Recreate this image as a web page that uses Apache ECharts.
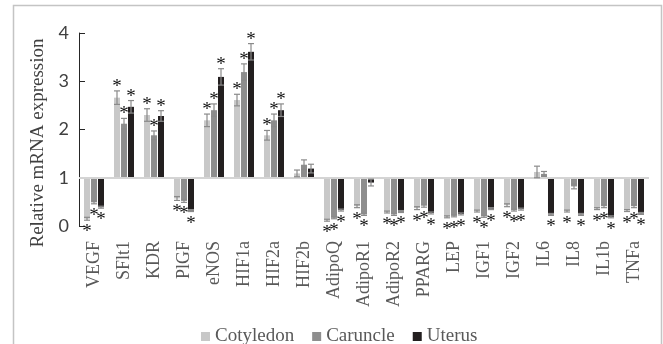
<!DOCTYPE html>
<html><head><meta charset="utf-8">
<script src="https://cdn.jsdelivr.net/npm/echarts@6/dist/echarts.min.js"></script>
<style>html,body{margin:0;padding:0;background:#fff}#c{width:663px;height:344px}</style>
</head><body><div id="c"></div>
<script>
const categories = ['VEGF','SFlt1','KDR','PlGF','eNOS','HIF1a','HIF2a','HIF2b','AdipoQ','AdipoR1','AdipoR2','PPARG','LEP','IGF1','IGF2','IL6','IL8','IL1b','TNFa'];
const seriesNames = ['Cotyledon','Caruncle','Uterus'];
const cotyledon    = [0.15,2.66,2.30,0.57,2.19,2.61,1.88,1.09,0.12,0.41,0.29,0.37,0.19,0.31,0.43,1.12,0.31,0.36,0.32];
const cotyledonErr = [0.03,0.14,0.13,0.04,0.13,0.12,0.10,0.07,0.02,0.03,0.02,0.03,0.02,0.02,0.03,0.12,0.02,0.02,0.02];
const cotyledonSig = [1,1,1,1,1,1,1,0,1,1,1,1,1,1,1,0,1,1,1];
const caruncle     = [0.49,2.12,1.88,0.52,2.40,3.19,2.19,1.27,0.17,0.24,0.24,0.42,0.21,0.20,0.33,1.08,0.82,0.41,0.41];
const caruncleErr  = [0.03,0.11,0.09,0.03,0.13,0.17,0.13,0.10,0.02,0.02,0.02,0.03,0.02,0.02,0.02,0.05,0.05,0.03,0.03];
const caruncleSig  = [1,1,1,1,1,1,1,0,1,1,1,1,1,1,1,0,0,1,1];
const uterus       = [0.39,2.47,2.28,0.32,3.09,3.61,2.40,1.19,0.33,0.90,0.30,0.27,0.25,0.36,0.35,0.24,0.24,0.19,0.26];
const uterusErr    = [0.02,0.13,0.11,0.02,0.17,0.17,0.13,0.09,0.02,0.07,0.02,0.02,0.02,0.02,0.02,0.02,0.02,0.02,0.02];
const uterusSig    = [1,1,1,1,1,1,1,0,1,0,1,1,1,1,1,1,1,1,1];
const yMin = 0, yMax = 4, yStep = 1;
const BASE = 1;

const BAR_W = 6, BAR_GAP = 1;
const colors = ['#c8c8c8','#8e8e8e','#231f20'];
const groups = [
  {values: cotyledon, err: cotyledonErr, sig: cotyledonSig},
  {values: caruncle, err: caruncleErr, sig: caruncleSig},
  {values: uterus, err: uterusErr, sig: uterusSig}
];
const errData = [];
groups.forEach((g, gi) => g.values.forEach((v, i) => errData.push([i, v - BASE, g.err[i], g.sig[i], gi])));

const chart = echarts.init(document.getElementById('c'));
const series = groups.map((g, gi) => ({
  name: seriesNames[gi], type: 'bar',
  data: g.values.map(v => +(v - BASE).toFixed(4)),
  barWidth: BAR_W, barGap: '17%',
  itemStyle: {color: colors[gi]},
  markLine: gi === 0 ? {silent: true, symbol: 'none', label: {show: false},
    lineStyle: {color: '#d4d4d4', width: 2, type: 'solid'}, data: [{yAxis: 0}]} : undefined
}));
series.push({
  type: 'custom', name: 'err', z: 5,
  data: errData,
  renderItem: function (params, api) {
    const cat = api.value(0), val = api.value(1), err = api.value(2), sig = api.value(3), gi = api.value(4);
    const xc = api.coord([cat, 0])[0] + (gi - 1) * (BAR_W + BAR_GAP);
    const yHi = api.coord([cat, val + err])[1];
    const yLo = api.coord([cat, val - err])[1];
    const hw = BAR_W / 2;
    const st = {stroke: '#8a8a8a', lineWidth: 1.2};
    const ch = [
      {type: 'line', shape: {x1: xc, y1: yHi, x2: xc, y2: yLo}, style: st},
      {type: 'line', shape: {x1: xc - hw, y1: yHi, x2: xc + hw, y2: yHi}, style: st},
      {type: 'line', shape: {x1: xc - hw, y1: yLo, x2: xc + hw, y2: yLo}, style: st}
    ];
    if (sig) {
      const pos = val >= 0;
      ch.push({type: 'text', style: {text: '*', x: xc, y: pos ? yHi - 4 : yLo + 12,
        align: 'center', verticalAlign: 'middle', fill: '#111', font: '19px "Liberation Serif"'}});
    }
    return {type: 'group', children: ch};
  }
});

chart.setOption({
  animation: false,
  grid: {left: 79, right: 14, top: 33, bottom: 118},
  graphic: [
    {type: 'rect', shape: {x: 13.5, y: 5.5, width: 648, height: 360}, style: {fill: 'none', stroke: '#c4c4c4', lineWidth: 1.5}, silent: true},
    {type: 'text', x: 38, y: 143, rotation: Math.PI / 2,
      style: {text: 'Relative mRNA expression', align: 'center', verticalAlign: 'middle', fill: '#404040', font: '19px "Liberation Serif"'}}
  ],
  legend: {
    data: seriesNames, left: 196, top: 322, icon: 'rect', itemWidth: 9, itemHeight: 9, itemGap: 18,
    textStyle: {color: '#595959', fontFamily: 'Liberation Serif', fontSize: 19}
  },
  xAxis: {
    type: 'category', data: categories,
    axisLine: {show: false}, axisTick: {show: false},
    axisLabel: {rotate: 90, interval: 0, margin: 15, color: '#595959', fontFamily: 'Liberation Serif', fontSize: 18}
  },
  yAxis: {
    type: 'value', min: yMin - BASE, max: yMax - BASE, interval: yStep,
    axisLine: {show: true, onZero: false, lineStyle: {color: '#262626', width: 1}},
    axisTick: {show: true, inside: true, length: 6, lineStyle: {color: '#262626'}},
    splitLine: {show: false},
    axisLabel: {formatter: v => String(Math.round(v + BASE)), color: '#404040', fontFamily: 'Lato', fontSize: 18, margin: 10}
  },
  series: series
});
</script>
</body></html>
